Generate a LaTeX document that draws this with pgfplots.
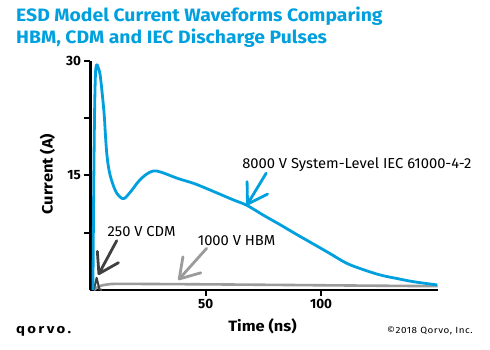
\documentclass[border=0pt]{standalone}
\usepackage{fontspec}
\setmainfont{Fira Sans}
\newfontfamily\titlefont[FakeStretch=1.08]{Fira Sans}
\newfontfamily\labfont[FakeStretch=1.1]{Fira Sans}
\newfontfamily\annfont[FakeStretch=1.02]{Fira Sans}
\newfontfamily\logofont[FakeStretch=1.15,LetterSpace=18]{Fira Sans}
\newfontfamily\copyfont[FakeStretch=1.1,LetterSpace=6]{Fira Sans}
\usepackage{pgfplots}
\pgfplotsset{compat=1.18}
\usetikzlibrary{arrows.meta}
\definecolor{qblue}{RGB}{0,160,222}
\definecolor{cdmgray}{RGB}{64,64,64}
\definecolor{hbmgray}{RGB}{155,155,155}
\pgfplotstableread{
t I
1.1 0
1.4 12
1.8 23
2.2 28.3
2.7 29.5
3.3 29.2
4.2 28.2
5.2 25.5
6.0 22.9
6.6 19.9
7.3 17.3
8.5 15.1
10.7 13.1
12.8 12.2
14.7 12.0
17.5 12.9
20.8 14.2
24 15.1
27.3 15.6
31 15.4
38 14.6
45.4 13.9
55 12.7
62 11.8
67.8 11.1
75 9.8
82 8.6
88.7 7.4
97.4 5.9
104 4.75
111.1 3.5
118 2.7
125.6 1.97
133 1.5
140 1.09
150.4 0.66
}\iecdata
\pgfplotstableread{
t I
1.5 0
2.7 1.6
3.9 0.1
5 0
}\cdmdata
\pgfplotstableread{
t I
1.5 0
3 0.35
5 0.6
8 0.75
12 0.8
30 0.78
60 0.72
100 0.62
150.5 0.5
}\hbmdata
\begin{document}
\begin{tikzpicture}
\path[use as bounding box] (0bp,0bp) rectangle (490bp,350bp);
\node[anchor=base west, inner sep=0, text=qblue, font=\titlefont\fontsize{18}{20}\selectfont\bfseries] at (16bp,328bp) {ESD Model Current Waveforms Comparing};
\node[anchor=base west, inner sep=0, text=qblue, font=\titlefont\fontsize{18}{20}\selectfont\bfseries] at (16bp,306bp) {HBM, CDM and IEC Discharge Pulses};
\begin{axis}[
  at={(90.4bp,60bp)}, anchor=south west,
  width=347.6bp, height=229bp, scale only axis,
  xmin=0, xmax=150.7, ymin=0, ymax=30,
  axis x line=bottom, axis y line=left,
  axis line style={-, line width=2.6bp, black},
  xtick={50,100}, ytick={7.5,15,22.5,30},
  yticklabels={,15,,30},
  tick align=outside, major tick length=6bp,
  tick style={line width=2bp, black},
  /pgf/number format/assume math mode=true,
  ticklabel style={font=\fontsize{13.5}{15}\selectfont\bfseries},
  clip=false,
]
\addplot[hbmgray, line width=2.6bp, smooth] table[x=t,y=I] {\hbmdata};
\addplot[cdmgray, line width=2bp, line join=round] table[x=t,y=I] {\cdmdata};
\addplot[qblue, line width=2.8bp, smooth, tension=0.55, line join=round] table[x=t,y=I] {\iecdata};
\draw[qblue, line width=2.8bp, line cap=round, -{Straight Barb[length=19bp,width=24bp,line cap=round,line join=round]}] (axis cs:76.2,15.3) -- (axis cs:67.8,11.1);
\draw[cdmgray, line width=2.8bp, line cap=round, -{Straight Barb[length=19bp,width=24bp,line cap=round,line join=round]}] (axis cs:11.4,6.46) -- (axis cs:3.4,1.97);
\draw[hbmgray, line width=2.8bp, line cap=round, -{Straight Barb[length=19bp,width=24bp,line cap=round,line join=round]}] (axis cs:50.4,5.46) -- (axis cs:38.1,1.31);
\node[font=\annfont\fontsize{14.5}{16}\selectfont] at (axis cs:115.5,16.4) {8000 V System-Level IEC 61000-4-2};
\node[font=\annfont\fontsize{14.5}{16}\selectfont] at (axis cs:22.2,7.6) {250 V CDM};
\node[font=\annfont\fontsize{14.5}{16}\selectfont] at (axis cs:63.4,6.5) {1000 V HBM};
\end{axis}
\node[rotate=90, font=\labfont\fontsize{15}{17}\selectfont\bfseries] at (47.5bp,176bp) {Current (A)};
\node[anchor=base, inner sep=0, font=\labfont\fontsize{15}{17}\selectfont\bfseries] at (262.5bp,19bp) {Time (ns)};
\node[anchor=base west, inner sep=0, font=\logofont\fontsize{13}{14}\selectfont\bfseries] at (16bp,17bp) {qorvo.};
\node[anchor=base east, inner sep=0, font=\copyfont\fontsize{9}{10}\selectfont] at (473bp,17bp) {\textcopyright 2018 Qorvo, Inc.};
\end{tikzpicture}
\end{document}
